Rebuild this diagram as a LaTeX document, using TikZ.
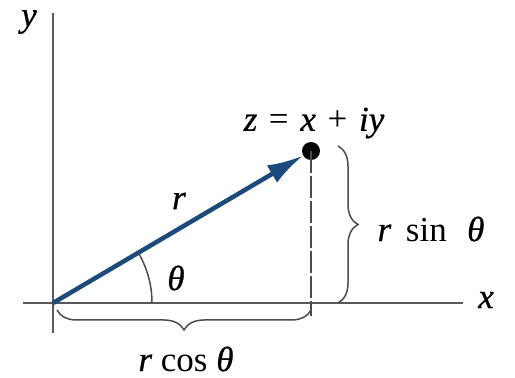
\documentclass[tikz,border=0pt]{standalone}
\usepackage{fontspec}
\setmainfont{Liberation Serif}[ItalicFeatures={FakeBold=0.7}]
\usetikzlibrary{arrows.meta,decorations.pathreplacing}
\begin{document}
\begin{tikzpicture}[x=1pt,y=1pt,
  axis/.style={draw=black!65,line width=1.8pt},
  vec/.style={draw=vecblue,line width=4.5pt,-{Latex[length=36pt,width=20pt]}},
  bracestyle/.style={draw=black!70,line width=1.5pt,decorate,decoration={brace,amplitude=20pt}},
  lab/.style={font=\fontsize{35}{38}\selectfont,inner sep=0pt,text=black}]
\definecolor{vecblue}{HTML}{1B4A7C}
\useasboundingbox (0,0) rectangle (515,378);
\fill[white] (0,0) rectangle (515,378);
\coordinate (O) at (53,75);
\coordinate (ytop) at (53,365);
\coordinate (ybot) at (53,45);
\coordinate (xl) at (23,75);
\coordinate (xr) at (463,75);
\coordinate (foot) at (311,62);
\node[circle,fill=black,inner sep=0pt,minimum size=18pt] (Z) at (311,227) {};
\draw[axis] (ybot) -- (ytop);
\draw[axis] (xl) -- (xr);
\draw[black!70,line width=1.6pt,dash pattern=on 22pt off 3pt] (Z.center) -- (foot);
\draw[vec] (O) -- (Z);
\draw[black!70,line width=1.5pt] (152,75) arc[start angle=0,end angle=30.5,radius=99];
\coordinate (b1) at (338,232);
\coordinate (b2) at (338,75);
\draw[bracestyle] (b1) -- (b2);
\coordinate (c1) at (311,68);
\coordinate (c2) at (57,68);
\draw[bracestyle] (c1) -- (c2);
\node[lab] (ylab) at (29,356) {\textit{y}};
\node[lab] (xlab) at (486,78) {\textit{x}};
\node[lab] (th) at (176,100) {\textit{θ}};
\node[lab] (rlab) at (179,177) {\textit{r}};
\node[lab] (zlab) at (314,255) {\textit{z}\,\,=\,\,\textit{x}\,\,+\,\,\textit{iy}};
\node[lab] (rs) at (431,149) {\textit{r}\, sin\,\, \textit{θ}};
\node[lab] (rc) at (186,19) {\textit{r} cos \textit{θ}};
\end{tikzpicture}
\end{document}
